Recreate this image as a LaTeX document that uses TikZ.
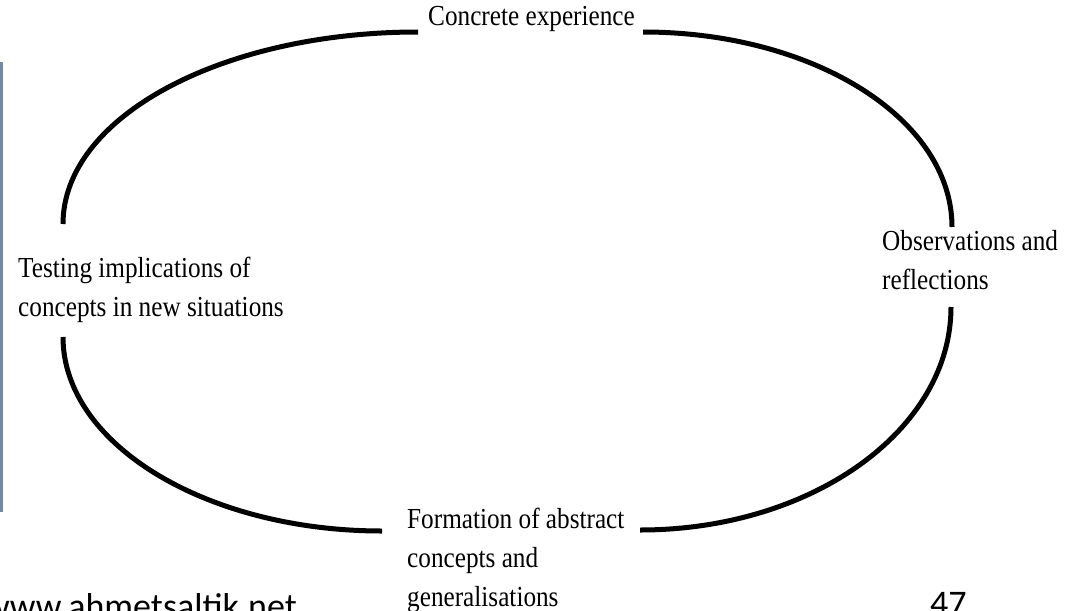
\documentclass[tikz,border=0pt]{standalone}
\usepackage{fontspec}
\setmainfont{Liberation Serif}[FakeStretch=0.87]
\newfontfamily\footfont{Carlito}
\definecolor{sideblue}{RGB}{110,138,172}
\tikzset{
  loopline/.style={line width=5pt, line cap=butt},
  stagelabel/.style={inner sep=0pt, anchor=base west, align=left,
    font=\fontsize{29}{39}\selectfont},
  footlabel/.style={inner sep=0pt, font=\footfont\fontsize{36}{40}\selectfont}
}
\begin{document}
\begin{tikzpicture}[x=1pt, y=-1pt]
\useasboundingbox[fill=white] (0,0) rectangle (1067,610);
% side bar
\fill[sideblue] (0,62) rectangle (3,512);
% labels (base anchor = baseline of the last line)
\node[stagelabel] (ce) at (428,26) {Concrete experience};
\node[stagelabel] (or) at (882,289) {Observations and\\reflections};
\node[stagelabel] (fa) at (407,606) {Formation of abstract\\concepts and\\generalisations};
\node[stagelabel] (ti) at (18,316) {Testing implications of\\concepts in new situations};
% arc end points
\coordinate (tl) at (418,32);
\coordinate (tr) at (643,32);
\coordinate (rt) at (952,227);
\coordinate (rb) at (951,307);
\coordinate (br) at (640,530);
\coordinate (bl) at (382,531);
\coordinate (lb) at (63,337);
\coordinate (lt) at (63,224);
% loop arcs
\draw[loopline] (tl) .. controls (222,32) and (63,117) .. (lt);
\draw[loopline] (tr) .. controls (814,32) and (952,119) .. (rt);
\draw[loopline] (rb) .. controls (951,430) and (812,530) .. (br);
\draw[loopline] (lb) .. controls (63,444) and (206,531) .. (bl);
% footer
\node[footlabel, anchor=base east] (web) at (297,618) {www.ahmetsaltik.net};
\node[footlabel, anchor=base west] (pg) at (930,615) {47};
\end{tikzpicture}
\end{document}
